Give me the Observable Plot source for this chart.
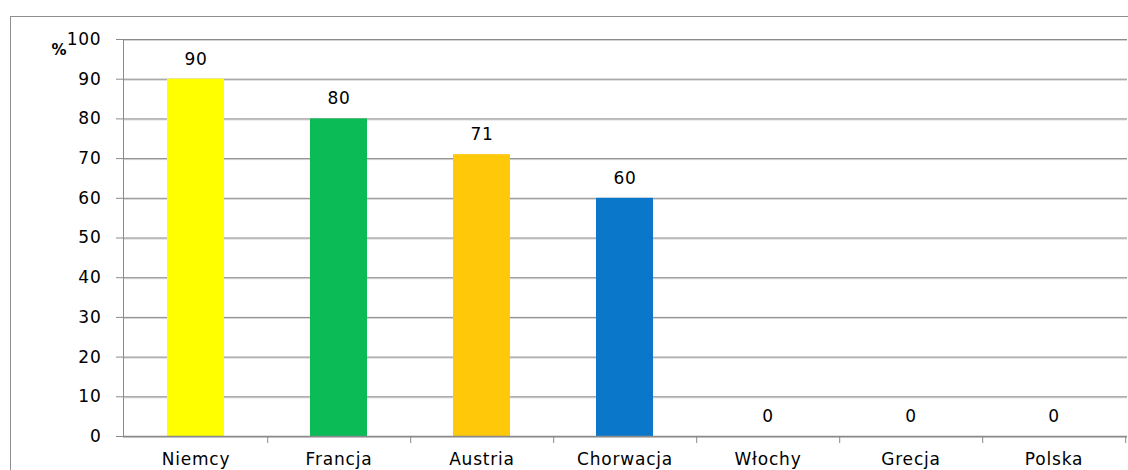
<!DOCTYPE html>
<html>
<head>
<meta charset="utf-8">
<script src="https://cdn.jsdelivr.net/npm/d3@7"></script>
<script src="https://cdn.jsdelivr.net/npm/@observablehq/plot@0.6"></script>
<style>
  html, body { margin: 0; padding: 0; background: #fff; overflow: hidden; width: 1128px; height: 470px; }
  #wrap { position: relative; width: 1128px; height: 470px; }
  #box { position: absolute; left: 10px; top: 16px; width: 1200px; height: 600px; border: 1px solid #8e8e8e; box-sizing: border-box; }
  #chart { position: absolute; left: 0; top: 0; }
</style>
</head>
<body>
<div id="wrap">
  <div id="box"></div>
  <div id="chart"></div>
</div>
<script>
// Share (%) per country
const countries = ["Niemcy", "Francja", "Austria", "Chorwacja", "Włochy", "Grecja", "Polska"];
const shares = [90, 80, 71, 60, 0, 0, 0];
const barColors = ["#FFFF00", "#0BBB55", "#FFC90A", "#0B77CA", "#FFFFFF", "#FFFFFF", "#FFFFFF"];
const yTicks = [0, 10, 20, 30, 40, 50, 60, 70, 80, 90, 100];
const unitLabel = "%";

const data = countries.map((country, i) => ({ country, share: shares[i], color: barColors[i] }));

const width = 1128, height = 470;
const marginLeft = 123, marginRight = 1, marginTop = 39, marginBottom = 34;
const step = (width - marginLeft - marginRight) / countries.length;
const gridColor = "#8a8a8a";

const chart = Plot.plot({
  width, height, marginLeft, marginRight, marginTop, marginBottom,
  style: { fontFamily: "DejaVu Sans", fontSize: "17px", letterSpacing: "0.8px", color: "#000", background: "transparent" },
  x: { domain: countries, paddingInner: 0.6, paddingOuter: 0.3, label: null },
  y: { domain: [0, 100], label: null },
  marks: [
    // soft shadow under each gridline, then the gridline itself
    Plot.gridY(yTicks, { stroke: "#d2d2d2", strokeOpacity: 1, dy: 1 }),
    Plot.gridY(yTicks, { stroke: gridColor, strokeOpacity: 1 }),
    Plot.frame({ anchor: "left", stroke: gridColor }),
    Plot.barY(data, { x: "country", y: "share", fill: "color" }),
    Plot.ruleY([0], { stroke: gridColor, strokeWidth: 1.5 }),
    Plot.axisY(yTicks, { tickSize: 7, tickPadding: 15, fontSize: 17, stroke: gridColor, fill: "#000", label: null }),
    Plot.axisX({ tickSize: 0, tickPadding: 16, fontSize: 17, fill: "#000", label: null }),
    // category separators hanging below the baseline
    Plot.axisX({ tickSize: 7, dx: step / 2, tickFormat: () => "", stroke: gridColor, label: null }),
    Plot.text(data, { x: "country", y: "share", text: d => String(d.share), dy: -20, lineAnchor: "middle", fontSize: 17, fill: "#000" }),
    Plot.text([unitLabel], { frameAnchor: "top-left", text: d => d, dx: -72, dy: 11, lineAnchor: "middle", fontWeight: "bold", fontSize: 15, fill: "#000" })
  ]
});

document.getElementById("chart").append(chart);
</script>
</body>
</html>
